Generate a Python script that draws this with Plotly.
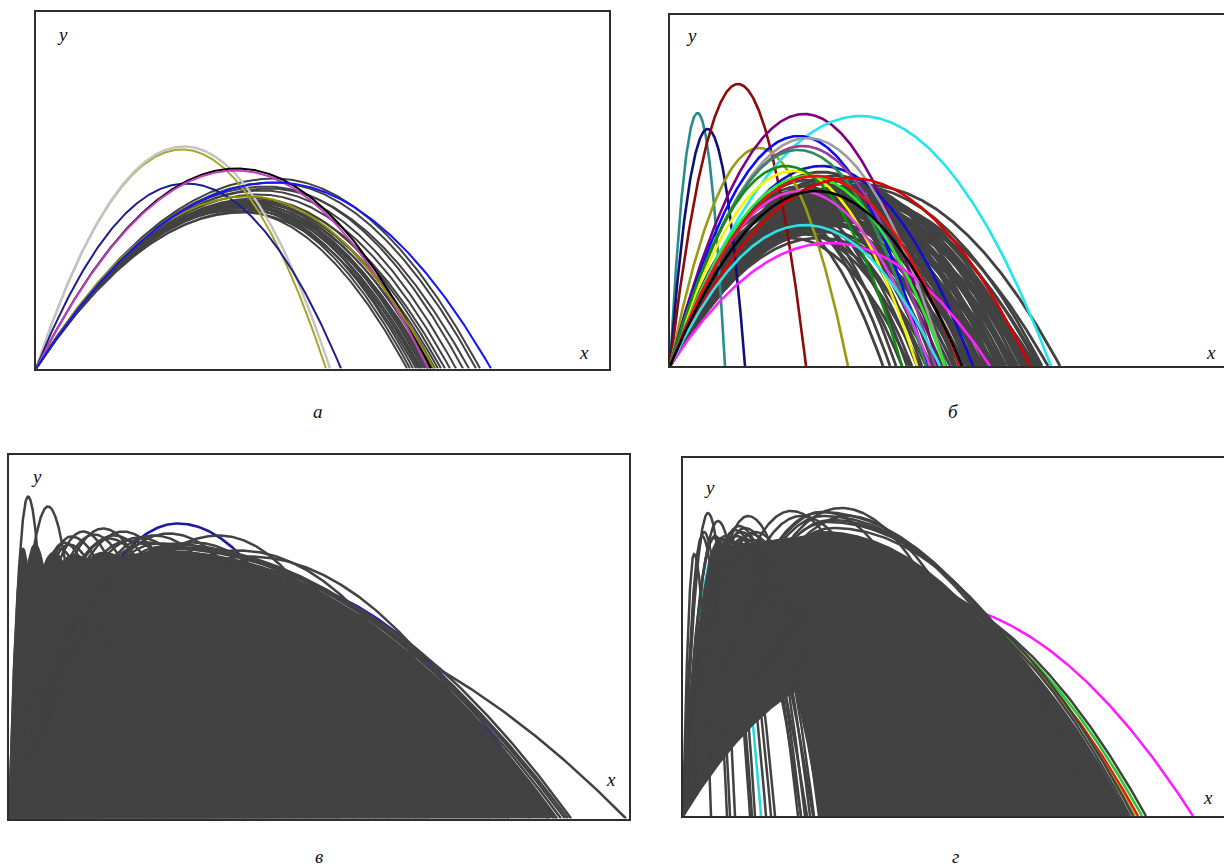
import numpy as np
import plotly.graph_objects as go

# ---------------- data: trajectories given by landing range R, apex height H, apex position XA -------------
# panel а
a_gray_range  = [371, 374, 377, 380, 382, 385, 387, 389, 391, 393, 395, 397, 399, 402, 405, 409, 414, 420, 427, 433, 440, 444, 384, 392]
a_gray_height = [158, 161, 163, 160, 164, 162, 166, 163, 165, 161, 167, 164, 168, 166, 170, 168, 174, 178, 182, 180, 186, 190, 156, 158]
a_gray_apex   = [200, 202, 204, 205, 206, 208, 209, 210, 211, 212, 213, 214, 215, 217, 219, 221, 223, 226, 230, 233, 237, 239, 207, 212]
a_col_range   = [290, 294, 305, 395, 392, 398, 455]
a_col_height  = [219, 222, 185, 200, 198, 172, 186]
a_col_apex    = [146, 148, 150, 201, 200, 212, 240]
a_col_color   = ["#a6a62a", "#c4c4c4", "#1e1e8c", "#000000", "#c040c0", "#8f8f00", "#1414ff"]

# panel б
b_gray_range  = [213, 220, 226, 232, 237, 242, 247, 250, 252, 256, 260, 264, 268, 272, 276, 280, 283, 286, 289, 290,
                 292, 295, 298, 300, 303, 306, 309, 312, 315, 318, 321, 324, 327, 330, 330, 333, 336, 339, 342, 345,
                 348, 351, 354, 357, 360, 364, 368, 372, 378, 390,
                 240, 262, 285, 305, 325, 345, 366, 298,
                 302, 311, 317, 323, 329, 335, 341, 347, 353, 359, 362, 370, 307, 319, 331, 343, 355, 313]
b_gray_height = [150, 158, 165, 145, 170, 152, 160, 135, 175, 148, 166, 180, 156, 170, 186, 150, 162, 176, 190, 138,
                 145, 158, 168, 182, 194, 152, 163, 174, 186, 147, 158, 168, 178, 190, 140, 155, 165, 175, 185, 160,
                 170, 180, 150, 166, 176, 160, 172, 180, 168, 181,
                 128, 132, 136, 134, 142, 146, 150, 128,
                 160, 170, 155, 176, 162, 172, 158, 178, 164, 170, 156, 166, 144, 150, 152, 156, 160, 148]
b_col_range   = [55, 75, 136, 178, 268, 381, 257, 303, 275, 265, 256, 247, 275, 232, 320, 260, 290, 360, 270, 292]
b_col_height  = [253, 237, 282, 218, 252, 250, 230, 200, 228, 220, 216, 195, 190, 200, 123, 175, 190, 188, 141, 175]
b_col_color   = ["#2a8c8c", "#10107a", "#8b0a0a", "#9a9a12", "#800080", "#22e6ee", "#0a0aff", "#1010d0",
                 "#9c9c9c", "#9b3c9b", "#2e8b57", "#f5f500", "#22ee22", "#128c12", "#ff22ff", "#e83ce8",
                 "#ee1010", "#dd0000", "#30e0e8", "#000000"]

# panel в
v_fill_range  = [30, 55, 90, 140, 200, 260, 330, 420, 500, 540, 548]
v_fill_height = [270, 274, 266, 264, 266, 264, 260, 256, 260, 268, 258]
v_fill_apex   = [14, 26, 45, 65, 95, 125, 150, 170, 165, 150, 175]
v_line_range  = [42, 80, 150, 155, 195, 205, 235, 270, 300, 380, 400, 480, 520, 617, 559, 556, 552, 548, 545, 562,
                 120, 175, 215, 250, 285, 330, 345, 110, 135]
v_line_height = [322, 312, 282, 287, 290, 280, 287, 281, 283, 276, 283, 268, 262, 222, 275, 272, 270, 266, 262, 258,
                 276, 284, 283, 278, 276, 285, 275, 270, 274]
v_line_apex   = [19, 39, 62, 74, 94, 100, 114, 130, 145, 185, 210, 230, 240, 180, 150, 155, 158, 162, 168, 190,
                 55, 85, 105, 120, 140, 160, 170, 50, 60]
v_col_range   = [360, 539]
v_col_height  = [295, 240]
v_col_apex    = [169, 250]
v_col_color   = ["#1c1c9c", "#0a0aff"]

# panel г
g_low = (355, 145, 177)          # lowest launch trajectory
g_fill_range  = [445, 420, 380, 330, 280, 240, 200, 175, 160, 150, 140]
g_fill_height = [230, 284, 280, 278, 276, 274, 272, 272, 270, 270, 268]
g_fill_apex   = [200, 140, 125, 110, 95, 80, 68, 58, 50, 45, 40]
g_line_range  = [28, 44, 47, 52, 67, 69, 72, 83, 88, 92,
                 115, 118, 122, 127, 131, 136, 150, 156, 162,
                 118, 124, 130, 138, 144, 152, 158, 164,
                 140, 230, 250, 300, 330, 350,
                 420, 425, 415, 430, 410,
                 463, 450, 447, 440, 435]
g_line_height = [262, 280, 284, 303, 278, 280, 295, 278, 276, 280,
                 286, 280, 290, 284, 278, 288, 282, 276, 284,
                 272, 268, 276, 270, 274, 266, 272, 268,
                 300, 305, 300, 304, 308, 300,
                 300, 294, 304, 288, 296,
                 232, 238, 236, 240, 245]
g_line_apex   = [11, 19, 21, 25, 31, 32, 35, 38, 40, 42,
                 52, 54, 56, 58, 60, 62, 68, 70, 72,
                 40, 42, 45, 48, 50, 52, 55, 57,
                 65, 108, 118, 140, 158, 165,
                 140, 145, 138, 150, 148,
                 205, 203, 200, 195, 190]
g_col_range   = [510, 459, 455, 452, 78, 146]
g_col_height  = [215, 228, 226, 230, 272, 268]
g_col_apex    = [235, 207, 205, 203, 35, 64]
g_col_color   = ["#ff1aff", "#22cc22", "#ee1111", "#9a9a10", "#20d8e0", "#20d8e0"]

# ---------------- layout constants ----------------
W, HT = 1224, 866
GRAY = "#424242"
FRAME = "#2e2e2e"
BOX = {  # left, top, right, bottom in pixels
    1: (36, 12, 609, 368.5),
    2: (670, 15, 1224, 366),
    3: (9, 455, 628.5, 818.5),
    4: (683, 457.5, 1224, 816),
}


def traj(R, H, xa=None, n=300):
    if xa is None:
        xa = R / 2.0
    x = np.linspace(0, R, n)
    y = np.where(x <= xa, H * (1 - ((xa - x) / xa) ** 2), H * (1 - ((x - xa) / (R - xa)) ** 2))
    return x, y


fig = go.Figure()


def add_line(k, R, H, xa, color, width):
    x, y = traj(R, H, xa)
    fig.add_trace(go.Scatter(x=x, y=y, mode="lines", line=dict(color=color, width=width),
                             xaxis="x" if k == 1 else f"x{k}", yaxis="y" if k == 1 else f"y{k}",
                             hoverinfo="skip", showlegend=False))


# panel а
for R, H, xa in zip(a_gray_range, a_gray_height, a_gray_apex):
    add_line(1, R, H, xa, GRAY, 2)
for i, (R, H, xa, c) in enumerate(zip(a_col_range, a_col_height, a_col_apex, a_col_color)):
    add_line(1, R, H, xa, c, 2.5 if i == 1 else 2)

# panel б
for R, H in zip(b_gray_range, b_gray_height):
    add_line(2, R, H, None, GRAY, 2.8)
for R, H, c in zip(b_col_range, b_col_height, b_col_color):
    add_line(2, R, H, None, c, 2.6)

# panel в
for R, H, xa, c in zip(v_col_range, v_col_height, v_col_apex, v_col_color):
    add_line(3, R, H, xa, c, 2.6)
for R, H, xa in zip(v_fill_range, v_fill_height, v_fill_apex):
    x, y = traj(R, H, xa)
    fig.add_trace(go.Scatter(x=x, y=y, mode="lines", fill="tozeroy", fillcolor=GRAY,
                             line=dict(color=GRAY, width=2), xaxis="x3", yaxis="y3",
                             hoverinfo="skip", showlegend=False))
for R, H, xa in zip(v_line_range, v_line_height, v_line_apex):
    add_line(3, R, H, xa, GRAY, 2.5)

# panel г
for R, H, xa, c in zip(g_col_range, g_col_height, g_col_apex, g_col_color):
    add_line(4, R, H, xa, c, 2.5)
lx, ly = traj(*g_low)
for R, H, xa in zip(g_fill_range, g_fill_height, g_fill_apex):
    cx, cy = traj(R, H, xa)
    fig.add_trace(go.Scatter(x=np.concatenate([cx, lx[::-1]]), y=np.concatenate([cy, ly[::-1]]),
                             mode="lines", fill="toself", fillcolor=GRAY, line=dict(color=GRAY, width=0),
                             xaxis="x4", yaxis="y4", hoverinfo="skip", showlegend=False))
    add_line(4, R, H, xa, GRAY, 2)
add_line(4, g_low[0], g_low[1], g_low[2], GRAY, 2.5)
for R, H, xa in zip(g_line_range, g_line_height, g_line_apex):
    add_line(4, R, H, xa, GRAY, 2.5)

# axes
layout = dict(width=W, height=HT, margin=dict(l=0, r=0, t=0, b=0),
              paper_bgcolor="white", plot_bgcolor="white", showlegend=False)
for k, (l, t, r, b) in BOX.items():
    sx = "" if k == 1 else str(k)
    open_right = k in (2, 4)
    layout["xaxis" + sx] = dict(domain=[l / W, r / W], range=[0, r - l], anchor="y" + sx,
                                showgrid=False, zeroline=False, showticklabels=False, ticks="",
                                showline=True, linecolor=FRAME, linewidth=2, mirror=True, fixedrange=True)
    layout["yaxis" + sx] = dict(domain=[1 - b / HT, 1 - t / HT], range=[0, b - t], anchor="x" + sx,
                                showgrid=False, zeroline=False, showticklabels=False, ticks="",
                                showline=True, linecolor=FRAME, linewidth=2,
                                mirror=False if open_right else True, fixedrange=True)
fig.update_layout(**layout)

# text labels
labels = [("y", 62, 34), ("x", 584, 352), ("а", 318, 411),
          ("y", 691, 36), ("x", 1211, 352), ("б", 953, 411),
          ("y", 36, 477), ("x", 611, 779), ("в", 319, 856),
          ("y", 709, 487), ("x", 1208, 797), ("г", 955, 856)]
for txt, px, py in labels:
    fig.add_annotation(x=px / W, y=1 - py / HT, xref="paper", yref="paper", text=f"<i>{txt}</i>",
                       showarrow=False, xanchor="center", yanchor="middle",
                       font=dict(family="Liberation Serif, DejaVu Serif, serif", size=19, color="#111111"))

fig.write_html("out.html", config={"displayModeBar": False},
               post_script="document.body.style.margin='0';document.body.style.overflow='hidden';")
